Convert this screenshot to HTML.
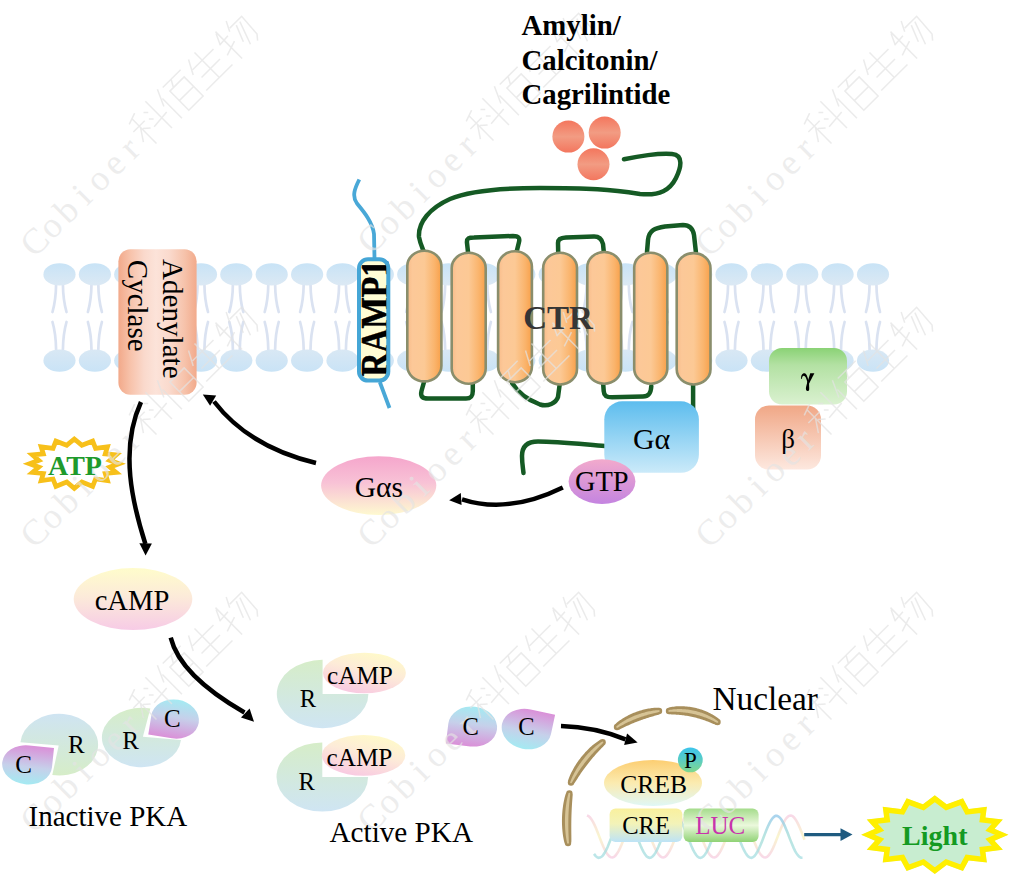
<!DOCTYPE html>
<html><head><meta charset="utf-8"><style>
html,body{margin:0;padding:0;background:#fff;width:1011px;height:875px;overflow:hidden;}
svg{display:block;}
</style></head><body>
<svg width="1011" height="875" viewBox="0 0 1011 875">
<defs>
<linearGradient id="gHead" x1="0" y1="0" x2="0" y2="1"><stop offset="0" stop-color="#C8E3F6"/><stop offset="1" stop-color="#DCE9F4"/></linearGradient>
<linearGradient id="gHeadB" x1="0" y1="0" x2="0" y2="1"><stop offset="0" stop-color="#D9E8F4"/><stop offset="1" stop-color="#C9E3F6"/></linearGradient>
<linearGradient id="gAC" x1="0" y1="0" x2="1" y2="0"><stop offset="0" stop-color="#F2A98A"/><stop offset="0.15" stop-color="#F7C2AA"/><stop offset="0.33" stop-color="#FAD9CC"/><stop offset="0.48" stop-color="#FCE3D9"/><stop offset="0.65" stop-color="#FADACD"/><stop offset="0.85" stop-color="#F6C2AA"/><stop offset="1" stop-color="#F2AA8B"/></linearGradient>
<linearGradient id="gHelix" x1="0" y1="0" x2="1" y2="0"><stop offset="0" stop-color="#F8BC8A"/><stop offset="0.15" stop-color="#FCC898"/><stop offset="0.5" stop-color="#FCC995"/><stop offset="0.8" stop-color="#FAB46C"/><stop offset="1" stop-color="#F8A04A"/></linearGradient>
<linearGradient id="gLig" x1="0" y1="0" x2="0" y2="1"><stop offset="0" stop-color="#F4765D"/><stop offset="0.5" stop-color="#F29C83"/><stop offset="1" stop-color="#F3765E"/></linearGradient>
<linearGradient id="gGa" x1="0" y1="0" x2="0" y2="1"><stop offset="0" stop-color="#5DBDEE"/><stop offset="1" stop-color="#CBEAF9"/></linearGradient>
<linearGradient id="gGTP" x1="0" y1="0" x2="0" y2="1"><stop offset="0" stop-color="#F2AACC"/><stop offset="1" stop-color="#C484E0"/></linearGradient>
<linearGradient id="gGam" x1="0" y1="0" x2="0" y2="1"><stop offset="0" stop-color="#8AD275"/><stop offset="0.3" stop-color="#B3E1A3"/><stop offset="1" stop-color="#DAF1D0"/></linearGradient>
<linearGradient id="gBet" x1="0" y1="0" x2="0" y2="1"><stop offset="0" stop-color="#F0A786"/><stop offset="1" stop-color="#FDE8DF"/></linearGradient>
<linearGradient id="gGas" x1="0" y1="0" x2="0" y2="1"><stop offset="0" stop-color="#F5A6CC"/><stop offset="0.45" stop-color="#F8C2D6"/><stop offset="1" stop-color="#FEF9D0"/></linearGradient>
<linearGradient id="gCamp" x1="0" y1="0" x2="0" y2="1"><stop offset="0" stop-color="#FFFCCB"/><stop offset="0.45" stop-color="#FCEBD9"/><stop offset="1" stop-color="#F7CBE6"/></linearGradient>
<linearGradient id="gCampS" x1="0.75" y1="0" x2="0.3" y2="1"><stop offset="0" stop-color="#FFFBC8"/><stop offset="0.45" stop-color="#FDEBD8"/><stop offset="1" stop-color="#F8C8E2"/></linearGradient>
<linearGradient id="gRgb" x1="0" y1="0" x2="0" y2="1"><stop offset="0" stop-color="#D6EDC8"/><stop offset="1" stop-color="#CFE5F3"/></linearGradient>
<linearGradient id="gRbg" x1="0" y1="0" x2="0" y2="1"><stop offset="0" stop-color="#CFE4F2"/><stop offset="1" stop-color="#D6EDC8"/></linearGradient>
<linearGradient id="gCcm" x1="0" y1="0" x2="0" y2="1"><stop offset="0" stop-color="#A4EAF2"/><stop offset="0.45" stop-color="#C6D0EA"/><stop offset="1" stop-color="#DA90D8"/></linearGradient>
<linearGradient id="gCmc" x1="0" y1="0" x2="0" y2="1"><stop offset="0" stop-color="#DA90D8"/><stop offset="0.55" stop-color="#C6D0EA"/><stop offset="1" stop-color="#A4EAF2"/></linearGradient>
<linearGradient id="gCREB" x1="0" y1="0" x2="0" y2="1"><stop offset="0" stop-color="#FCCE72"/><stop offset="0.5" stop-color="#FBEBB0"/><stop offset="1" stop-color="#DFF7F6"/></linearGradient>
<linearGradient id="gP" x1="0" y1="0" x2="0" y2="1"><stop offset="0" stop-color="#3CC4EC"/><stop offset="0.5" stop-color="#5ACDC4"/><stop offset="1" stop-color="#80D88C"/></linearGradient>
<linearGradient id="gCRE" x1="0" y1="0" x2="0" y2="1"><stop offset="0" stop-color="#F9F09E"/><stop offset="0.45" stop-color="#F3F3B8"/><stop offset="1" stop-color="#BDE3F7"/></linearGradient>
<linearGradient id="gLUC" x1="0" y1="0" x2="0" y2="1"><stop offset="0" stop-color="#A5DC8C"/><stop offset="0.5" stop-color="#EBF8DC"/><stop offset="1" stop-color="#8FD274"/></linearGradient>
<linearGradient id="gDNA1" x1="0" y1="0" x2="0" y2="1"><stop offset="0" stop-color="#F6CCE0"/><stop offset="0.5" stop-color="#F8F2BE"/><stop offset="1" stop-color="#F6CCE0"/></linearGradient><linearGradient id="gDNA2" x1="0" y1="0" x2="0" y2="1"><stop offset="0" stop-color="#8EC6E8"/><stop offset="0.5" stop-color="#A2DCD6"/><stop offset="1" stop-color="#A6DEE2"/></linearGradient>
<marker id="ah" markerWidth="4" markerHeight="4" refX="2.2" refY="2" orient="auto" markerUnits="strokeWidth"><path d="M0,0 L4,2 L0,4 Z" fill="#000"/></marker>
</defs>

<g fill="none" stroke="#DAE2F1" stroke-width="2.7" stroke-linecap="round"><path d="M56.1,284 Q55.9,300 52.5,312 M62.9,284 Q63.1,300 66.5,312 M52.5,322 Q55.9,334 56.1,350 M66.5,322 Q63.1,334 62.9,350" /><path d="M91.5,284 Q91.3,300 87.9,312 M98.3,284 Q98.5,300 101.9,312 M87.9,322 Q91.3,334 91.5,350 M101.9,322 Q98.5,334 98.3,350" /><path d="M126.8,284 Q126.6,300 123.2,312 M133.6,284 Q133.8,300 137.2,312 M123.2,322 Q126.6,334 126.8,350 M137.2,322 Q133.8,334 133.6,350" /><path d="M162.2,284 Q162.0,300 158.6,312 M169.0,284 Q169.2,300 172.6,312 M158.6,322 Q162.0,334 162.2,350 M172.6,322 Q169.2,334 169.0,350" /><path d="M197.6,284 Q197.4,300 194.0,312 M204.4,284 Q204.6,300 208.0,312 M194.0,322 Q197.4,334 197.6,350 M208.0,322 Q204.6,334 204.4,350" /><path d="M232.9,284 Q232.8,300 229.3,312 M239.8,284 Q239.9,300 243.3,312 M229.3,322 Q232.8,334 232.9,350 M243.3,322 Q239.9,334 239.8,350" /><path d="M268.3,284 Q268.1,300 264.7,312 M275.1,284 Q275.3,300 278.7,312 M264.7,322 Q268.1,334 268.3,350 M278.7,322 Q275.3,334 275.1,350" /><path d="M303.7,284 Q303.5,300 300.1,312 M310.5,284 Q310.7,300 314.1,312 M300.1,322 Q303.5,334 303.7,350 M314.1,322 Q310.7,334 310.5,350" /><path d="M339.1,284 Q338.9,300 335.5,312 M345.9,284 Q346.1,300 349.5,312 M335.5,322 Q338.9,334 339.1,350 M349.5,322 Q346.1,334 345.9,350" /><path d="M374.4,284 Q374.2,300 370.8,312 M381.2,284 Q381.4,300 384.8,312 M370.8,322 Q374.2,334 374.4,350 M384.8,322 Q381.4,334 381.2,350" /><path d="M409.8,284 Q409.6,300 406.2,312 M416.6,284 Q416.8,300 420.2,312 M406.2,322 Q409.6,334 409.8,350 M420.2,322 Q416.8,334 416.6,350" /><path d="M445.2,284 Q445.0,300 441.6,312 M452.0,284 Q452.2,300 455.6,312 M441.6,322 Q445.0,334 445.2,350 M455.6,322 Q452.2,334 452.0,350" /><path d="M480.5,284 Q480.3,300 476.9,312 M487.3,284 Q487.5,300 490.9,312 M476.9,322 Q480.3,334 480.5,350 M490.9,322 Q487.5,334 487.3,350" /><path d="M515.9,284 Q515.7,300 512.3,312 M522.7,284 Q522.9,300 526.3,312 M512.3,322 Q515.7,334 515.9,350 M526.3,322 Q522.9,334 522.7,350" /><path d="M551.3,284 Q551.1,300 547.7,312 M558.1,284 Q558.3,300 561.7,312 M547.7,322 Q551.1,334 551.3,350 M561.7,322 Q558.3,334 558.1,350" /><path d="M586.6,284 Q586.4,300 583.0,312 M593.4,284 Q593.6,300 597.0,312 M583.0,322 Q586.4,334 586.6,350 M597.0,322 Q593.6,334 593.4,350" /><path d="M622.0,284 Q621.8,300 618.4,312 M628.8,284 Q629.0,300 632.4,312 M618.4,322 Q621.8,334 622.0,350 M632.4,322 Q629.0,334 628.8,350" /><path d="M657.4,284 Q657.2,300 653.8,312 M664.2,284 Q664.4,300 667.8,312 M653.8,322 Q657.2,334 657.4,350 M667.8,322 Q664.4,334 664.2,350" /><path d="M692.8,284 Q692.6,300 689.2,312 M699.6,284 Q699.8,300 703.2,312 M689.2,322 Q692.6,334 692.8,350 M703.2,322 Q699.8,334 699.6,350" /><path d="M728.1,284 Q727.9,300 724.5,312 M734.9,284 Q735.1,300 738.5,312 M724.5,322 Q727.9,334 728.1,350 M738.5,322 Q735.1,334 734.9,350" /><path d="M763.5,284 Q763.3,300 759.9,312 M770.3,284 Q770.5,300 773.9,312 M759.9,322 Q763.3,334 763.5,350 M773.9,322 Q770.5,334 770.3,350" /><path d="M798.9,284 Q798.7,300 795.3,312 M805.7,284 Q805.9,300 809.3,312 M795.3,322 Q798.7,334 798.9,350 M809.3,322 Q805.9,334 805.7,350" /><path d="M834.2,284 Q834.0,300 830.6,312 M841.0,284 Q841.2,300 844.6,312 M830.6,322 Q834.0,334 834.2,350 M844.6,322 Q841.2,334 841.0,350" /><path d="M869.6,284 Q869.4,300 866.0,312 M876.4,284 Q876.6,300 880.0,312 M866.0,322 Q869.4,334 869.6,350 M880.0,322 Q876.6,334 876.4,350" /></g>
<g fill="url(#gHead)"><ellipse cx="59.5" cy="274.4" rx="16.1" ry="11.2"/><ellipse cx="94.9" cy="274.4" rx="16.1" ry="11.2"/><ellipse cx="130.2" cy="274.4" rx="16.1" ry="11.2"/><ellipse cx="165.6" cy="274.4" rx="16.1" ry="11.2"/><ellipse cx="201.0" cy="274.4" rx="16.1" ry="11.2"/><ellipse cx="236.3" cy="274.4" rx="16.1" ry="11.2"/><ellipse cx="271.7" cy="274.4" rx="16.1" ry="11.2"/><ellipse cx="307.1" cy="274.4" rx="16.1" ry="11.2"/><ellipse cx="342.5" cy="274.4" rx="16.1" ry="11.2"/><ellipse cx="377.8" cy="274.4" rx="16.1" ry="11.2"/><ellipse cx="413.2" cy="274.4" rx="16.1" ry="11.2"/><ellipse cx="448.6" cy="274.4" rx="16.1" ry="11.2"/><ellipse cx="483.9" cy="274.4" rx="16.1" ry="11.2"/><ellipse cx="519.3" cy="274.4" rx="16.1" ry="11.2"/><ellipse cx="554.7" cy="274.4" rx="16.1" ry="11.2"/><ellipse cx="590.0" cy="274.4" rx="16.1" ry="11.2"/><ellipse cx="625.4" cy="274.4" rx="16.1" ry="11.2"/><ellipse cx="660.8" cy="274.4" rx="16.1" ry="11.2"/><ellipse cx="696.2" cy="274.4" rx="16.1" ry="11.2"/><ellipse cx="731.5" cy="274.4" rx="16.1" ry="11.2"/><ellipse cx="766.9" cy="274.4" rx="16.1" ry="11.2"/><ellipse cx="802.3" cy="274.4" rx="16.1" ry="11.2"/><ellipse cx="837.6" cy="274.4" rx="16.1" ry="11.2"/><ellipse cx="873.0" cy="274.4" rx="16.1" ry="11.2"/></g>
<g fill="url(#gHeadB)"><ellipse cx="59.5" cy="360.6" rx="16.1" ry="11.2"/><ellipse cx="94.9" cy="360.6" rx="16.1" ry="11.2"/><ellipse cx="130.2" cy="360.6" rx="16.1" ry="11.2"/><ellipse cx="165.6" cy="360.6" rx="16.1" ry="11.2"/><ellipse cx="201.0" cy="360.6" rx="16.1" ry="11.2"/><ellipse cx="236.3" cy="360.6" rx="16.1" ry="11.2"/><ellipse cx="271.7" cy="360.6" rx="16.1" ry="11.2"/><ellipse cx="307.1" cy="360.6" rx="16.1" ry="11.2"/><ellipse cx="342.5" cy="360.6" rx="16.1" ry="11.2"/><ellipse cx="377.8" cy="360.6" rx="16.1" ry="11.2"/><ellipse cx="413.2" cy="360.6" rx="16.1" ry="11.2"/><ellipse cx="448.6" cy="360.6" rx="16.1" ry="11.2"/><ellipse cx="483.9" cy="360.6" rx="16.1" ry="11.2"/><ellipse cx="519.3" cy="360.6" rx="16.1" ry="11.2"/><ellipse cx="554.7" cy="360.6" rx="16.1" ry="11.2"/><ellipse cx="590.0" cy="360.6" rx="16.1" ry="11.2"/><ellipse cx="625.4" cy="360.6" rx="16.1" ry="11.2"/><ellipse cx="660.8" cy="360.6" rx="16.1" ry="11.2"/><ellipse cx="696.2" cy="360.6" rx="16.1" ry="11.2"/><ellipse cx="731.5" cy="360.6" rx="16.1" ry="11.2"/><ellipse cx="766.9" cy="360.6" rx="16.1" ry="11.2"/><ellipse cx="802.3" cy="360.6" rx="16.1" ry="11.2"/><ellipse cx="837.6" cy="360.6" rx="16.1" ry="11.2"/><ellipse cx="873.0" cy="360.6" rx="16.1" ry="11.2"/></g>
<rect x="118.4" y="249.3" width="78.2" height="145.5" rx="12" fill="url(#gAC)"/>
<path d="M359.3,179.5 C355,188 351.5,196 357,203.5 C364,212 372.5,222 374,234 L374.5,258 M379.8,382 L389.5,408" fill="none" stroke="#49A8D7" stroke-width="3.8"/>
<rect x="359" y="259.2" width="29.3" height="121.4" rx="9" fill="#FFFDD5"/>
<text transform="translate(388,376.6) rotate(-90) scale(0.853,1)" font-family="Liberation Serif" font-weight="bold" font-size="39" fill="#000" stroke="#000" stroke-width="0.6">RAMP1</text>
<rect x="359" y="259.2" width="29.3" height="121.4" rx="9" fill="none" stroke="#45A6D6" stroke-width="4"/>
<g fill="none" stroke="#155A24" stroke-width="4.5" stroke-linecap="round" stroke-linejoin="round"><path d="M624,159.3 C640,156 660,153 672,154 C684,155 681,168 676,178 C670,190 660,196 640,194 C610,189.5 590,188 540,188 C500,188 470,190.5 450,199 C430,208 418,222 419,237 C420,243 422,247 424,252"/><path d="M424,382 L421.5,391 C420,397 423,398.5 428,398.5 L466,398.5 C471,398.5 472.8,396 472.8,391 L472.8,384"/><path d="M468,252 L467,243 C466.5,238 469,237.5 474,237.5 L513,236 C518.5,236 520,238 519,242 L516.8,251"/><path d="M512,383 C518,393 528,400 540,404.5 C548,407 556,403 558,397 L559.6,385"/><path d="M558.2,252 L558,243 C558,239 561,237.8 566,237.6 L594,236.6 C600,236.5 602,240 603,244 L603.7,251"/><path d="M603.2,384 L603.7,391 C604,396 607,397.3 612,397.3 L643,396.6 C649,396.5 651,393 651.3,386"/><path d="M647,252 L648,240 C649,230 655,228 665,226.5 L683,225 C690,225 693,229 694,235 L695.9,252"/><path d="M693.1,385 L693.1,412"/><path d="M605,446 C585,444.5 558,441.5 538,441.5 C527,441.5 522,447 522,456 C522,463 523,468 523.5,473"/></g>
<g fill="url(#gHelix)" stroke="#8A8E6C" stroke-width="2.6"><rect x="407.3" y="250.7" width="34.1" height="130.7" rx="17.0" ry="15.3"/><rect x="451.7" y="252.7" width="34.0" height="131.0" rx="17.0" ry="15.3"/><rect x="498.1" y="251.3" width="33.8" height="130.9" rx="16.9" ry="15.2"/><rect x="543.2" y="252.7" width="33.8" height="131.8" rx="16.9" ry="15.2"/><rect x="587.3" y="252.0" width="33.8" height="131.7" rx="16.9" ry="15.2"/><rect x="634.2" y="252.7" width="33.1" height="131.0" rx="16.6" ry="14.9"/><rect x="676.7" y="253.1" width="33.8" height="131.4" rx="16.9" ry="15.2"/></g>
<g fill="url(#gLig)"><circle cx="568.4" cy="136.6" r="16"/><circle cx="604.7" cy="132.6" r="16"/><circle cx="593.5" cy="164.3" r="16"/></g>
<rect x="604.3" y="401.3" width="94.6" height="71.5" rx="18" fill="url(#gGa)"/>
<ellipse cx="602" cy="481.6" rx="33.4" ry="22.3" fill="url(#gGTP)"/>
<rect x="769" y="348" width="78" height="56.5" rx="13" fill="url(#gGam)"/>
<rect x="755" y="405.4" width="66" height="64.2" rx="14" fill="url(#gBet)"/>
<ellipse cx="378.7" cy="485.6" rx="57.6" ry="29.3" fill="url(#gGas)"/>
<ellipse cx="133" cy="599.1" rx="59.3" ry="31" fill="url(#gCamp)"/>
<clipPath id="cpATP"><polygon points="74.3,435.9 82.3,442.6 94.0,438.0 97.1,445.8 110.8,444.0 108.4,451.8 122.0,453.1 114.5,459.5 125.9,463.7 114.5,467.9 122.0,474.3 108.4,475.6 110.8,483.4 97.1,481.6 94.0,489.4 82.3,484.8 74.3,491.5 66.3,484.8 54.6,489.4 51.5,481.6 37.8,483.4 40.2,475.6 26.6,474.3 34.1,467.9 22.7,463.7 34.1,459.5 26.6,453.1 40.2,451.8 37.8,444.0 51.5,445.8 54.6,438.0 66.3,442.6"/></clipPath><polygon points="74.3,435.9 82.3,442.6 94.0,438.0 97.1,445.8 110.8,444.0 108.4,451.8 122.0,453.1 114.5,459.5 125.9,463.7 114.5,467.9 122.0,474.3 108.4,475.6 110.8,483.4 97.1,481.6 94.0,489.4 82.3,484.8 74.3,491.5 66.3,484.8 54.6,489.4 51.5,481.6 37.8,483.4 40.2,475.6 26.6,474.3 34.1,467.9 22.7,463.7 34.1,459.5 26.6,453.1 40.2,451.8 37.8,444.0 51.5,445.8 54.6,438.0 66.3,442.6" fill="#FFFFFF" stroke="#F7C01A" stroke-width="9.5" stroke-linejoin="miter" stroke-miterlimit="20" clip-path="url(#cpATP)"/>
<path d="M58.70,745.50 L20.41,742.37 A38.9,30.9 0 1 1 52.29,775.11 Z" fill="url(#gRbg)"/>
<path transform="translate(54,748.1) rotate(6)" d="M0,0 L0,19.5 A25.0,19.5 0 0 1 -25.0,39 A25.0,19.5 0 0 1 -50,19.5 A25.0,19.5 0 0 1 -25.0,0 Z" fill="url(#gCmc)"/>
<path d="M142.90,736.80 L150.35,708.55 A39.6,29.7 0 1 0 180.97,739.92 Z" fill="url(#gRgb)"/>
<path transform="translate(148.3,734.6) rotate(9)" d="M0,0 L0,-19.5 A24.0,19.5 0 0 1 24.0,-39 A24.0,19.5 0 0 1 48,-19.5 A24.0,19.5 0 0 1 24.0,0 Z" fill="url(#gCcm)"/>
<path d="M322.6,694 L322.6,659.8 A45.8,34.2 0 1 0 368.40000000000003,694 Z" fill="url(#gRgb)"/>
<ellipse cx="364.4" cy="673" rx="41.5" ry="20.2" fill="url(#gCampS)"/>
<path d="M322.3,777 L322.3,742.4 A45.8,34.6 0 1 0 368.1,777 Z" fill="url(#gRgb)"/>
<ellipse cx="363.5" cy="755.4" rx="41.8" ry="20.4" fill="url(#gCampS)"/>
<path transform="translate(445.9,743.4) rotate(7)" d="M0,0 L0,-20.0 A24.5,20.0 0 0 1 24.5,-40 A24.5,20.0 0 0 1 49,-20.0 A24.5,20.0 0 0 1 24.5,0 Z" fill="url(#gCcm)"/>
<path transform="translate(555.1,714.7) rotate(12)" d="M0,0 L0,20.0 A25.0,20.0 0 0 1 -25.0,40 A25.0,20.0 0 0 1 -50,20.0 A25.0,20.0 0 0 1 -25.0,0 Z" fill="url(#gCmc)"/>
<g fill="#A88F5C"><path d="M669.37,714.18 L670.57,714.37 L671.73,714.42 L672.89,714.47 L674.05,714.52 L675.21,714.57 L676.37,714.64 L677.54,714.71 L678.70,714.80 L679.87,714.90 L681.04,715.02 L682.21,715.15 L683.38,715.30 L684.56,715.45 L685.73,715.63 L686.91,715.81 L688.08,716.01 L689.26,716.23 L690.43,716.46 L691.61,716.70 L692.78,716.96 L693.95,717.23 L695.12,717.52 L696.29,717.82 L697.46,718.13 L698.62,718.46 L699.78,718.80 L700.94,719.15 L702.10,719.52 L703.25,719.90 L704.40,720.30 L705.54,720.71 L706.68,721.13 L707.82,721.56 L708.95,722.01 L710.08,722.47 L711.21,722.94 L712.34,723.41 L713.46,723.89 L714.60,724.36 L715.84,724.73 L719.16,719.27 L718.21,718.31 L717.13,717.48 L716.02,716.71 L714.89,715.96 L713.73,715.25 L712.56,714.57 L711.37,713.92 L710.16,713.29 L708.95,712.68 L707.71,712.11 L706.47,711.56 L705.21,711.03 L703.94,710.53 L702.67,710.06 L701.38,709.62 L700.09,709.20 L698.79,708.81 L697.48,708.44 L696.17,708.10 L694.85,707.79 L693.52,707.51 L692.20,707.25 L690.87,707.02 L689.53,706.82 L688.20,706.64 L686.87,706.50 L685.53,706.38 L684.20,706.29 L682.87,706.23 L681.54,706.20 L680.21,706.20 L678.89,706.22 L677.57,706.28 L676.26,706.37 L674.96,706.49 L673.66,706.64 L672.37,706.83 L671.10,707.07 L669.83,707.36 L668.63,707.82Z"/><circle cx="669.00" cy="711.00" r="3.20"/><circle cx="717.50" cy="722.00" r="3.20"/><path d="M618.80,729.64 L619.95,729.26 L620.98,728.77 L622.00,728.28 L623.02,727.78 L624.03,727.28 L625.04,726.80 L626.05,726.31 L627.07,725.84 L628.08,725.38 L629.09,724.92 L630.10,724.47 L631.12,724.03 L632.13,723.60 L633.15,723.17 L634.16,722.75 L635.18,722.35 L636.20,721.94 L637.21,721.55 L638.23,721.16 L639.25,720.79 L640.27,720.41 L641.29,720.05 L642.31,719.69 L643.32,719.34 L644.34,719.00 L645.36,718.66 L646.38,718.33 L647.40,718.00 L648.41,717.68 L649.43,717.37 L650.44,717.06 L651.45,716.75 L652.46,716.45 L653.47,716.16 L654.48,715.86 L655.49,715.57 L656.49,715.27 L657.49,714.97 L658.48,714.64 L659.47,714.17 L658.53,707.83 L657.41,707.67 L656.30,707.68 L655.18,707.73 L654.06,707.81 L652.94,707.92 L651.81,708.06 L650.68,708.21 L649.55,708.38 L648.42,708.58 L647.29,708.79 L646.16,709.02 L645.03,709.27 L643.89,709.54 L642.76,709.83 L641.63,710.14 L640.50,710.47 L639.37,710.81 L638.24,711.18 L637.12,711.56 L636.00,711.96 L634.88,712.39 L633.77,712.83 L632.66,713.29 L631.56,713.77 L630.46,714.27 L629.37,714.78 L628.28,715.32 L627.20,715.88 L626.13,716.45 L625.07,717.05 L624.01,717.67 L622.97,718.30 L621.93,718.96 L620.91,719.64 L619.89,720.34 L618.89,721.06 L617.91,721.81 L616.95,722.59 L616.01,723.41 L615.20,724.36Z"/><circle cx="617.00" cy="727.00" r="3.20"/><circle cx="659.00" cy="711.00" r="3.20"/><path d="M573.91,783.84 L574.73,782.83 L575.41,781.79 L576.08,780.74 L576.75,779.68 L577.42,778.63 L578.09,777.57 L578.78,776.52 L579.47,775.46 L580.17,774.41 L580.88,773.36 L581.60,772.32 L582.32,771.28 L583.05,770.24 L583.80,769.21 L584.54,768.18 L585.30,767.16 L586.06,766.15 L586.83,765.14 L587.61,764.13 L588.39,763.14 L589.18,762.15 L589.97,761.17 L590.77,760.19 L591.57,759.23 L592.37,758.27 L593.18,757.32 L594.00,756.38 L594.82,755.45 L595.64,754.53 L596.46,753.61 L597.28,752.71 L598.11,751.82 L598.94,750.94 L599.76,750.07 L600.59,749.21 L601.41,748.35 L602.24,747.50 L603.05,746.66 L603.85,745.80 L604.57,744.82 L600.63,739.78 L599.47,740.27 L598.38,740.93 L597.32,741.64 L596.27,742.38 L595.23,743.15 L594.21,743.95 L593.19,744.77 L592.19,745.61 L591.19,746.48 L590.20,747.37 L589.23,748.28 L588.27,749.22 L587.31,750.17 L586.37,751.14 L585.45,752.12 L584.53,753.13 L583.63,754.15 L582.74,755.19 L581.87,756.24 L581.01,757.31 L580.17,758.40 L579.34,759.49 L578.53,760.61 L577.74,761.73 L576.96,762.87 L576.20,764.02 L575.46,765.18 L574.74,766.35 L574.04,767.53 L573.36,768.72 L572.70,769.92 L572.06,771.13 L571.44,772.35 L570.85,773.58 L570.29,774.81 L569.75,776.06 L569.24,777.31 L568.76,778.57 L568.34,779.84 L568.09,781.16Z"/><circle cx="571.00" cy="782.50" r="3.20"/><circle cx="602.60" cy="742.30" r="3.20"/><path d="M566.26,792.87 L565.69,794.07 L565.28,795.32 L564.92,796.58 L564.59,797.86 L564.29,799.14 L564.00,800.43 L563.74,801.72 L563.50,803.02 L563.28,804.32 L563.07,805.62 L562.89,806.93 L562.72,808.24 L562.57,809.55 L562.43,810.86 L562.31,812.17 L562.21,813.48 L562.13,814.79 L562.06,816.10 L562.01,817.41 L561.98,818.71 L561.96,820.02 L561.95,821.31 L561.97,822.61 L561.99,823.90 L562.04,825.18 L562.10,826.46 L562.17,827.73 L562.26,829.00 L562.37,830.26 L562.49,831.51 L562.62,832.75 L562.77,833.98 L562.94,835.21 L563.12,836.42 L563.32,837.62 L563.54,838.81 L563.78,839.99 L564.05,841.16 L564.36,842.31 L564.83,843.41 L571.17,842.59 L571.35,841.43 L571.38,840.30 L571.39,839.16 L571.38,838.01 L571.37,836.86 L571.36,835.71 L571.34,834.54 L571.33,833.37 L571.32,832.19 L571.31,831.01 L571.30,829.82 L571.29,828.63 L571.29,827.43 L571.29,826.22 L571.30,825.01 L571.30,823.80 L571.32,822.58 L571.33,821.36 L571.35,820.14 L571.37,818.91 L571.40,817.68 L571.43,816.45 L571.47,815.22 L571.51,813.98 L571.56,812.74 L571.61,811.51 L571.66,810.27 L571.72,809.03 L571.79,807.79 L571.86,806.55 L571.93,805.31 L572.01,804.07 L572.10,802.83 L572.19,801.60 L572.28,800.36 L572.37,799.13 L572.46,797.89 L572.55,796.65 L572.61,795.42 L572.54,794.13Z"/><circle cx="569.40" cy="793.50" r="3.20"/><circle cx="568.00" cy="843.00" r="3.20"/></g>
<g fill="#D6C395"><path d="M669.09,711.79 L670.31,711.85 L671.51,711.84 L672.71,711.82 L673.92,711.82 L675.12,711.83 L676.33,711.86 L677.55,711.91 L678.76,711.97 L679.98,712.04 L681.20,712.14 L682.42,712.25 L683.65,712.38 L684.87,712.53 L686.10,712.69 L687.32,712.87 L688.55,713.07 L689.77,713.28 L691.00,713.52 L692.22,713.77 L693.44,714.03 L694.66,714.32 L695.87,714.62 L697.09,714.93 L698.30,715.27 L699.51,715.62 L700.71,715.99 L701.91,716.37 L703.10,716.77 L704.30,717.19 L705.48,717.62 L706.66,718.07 L707.83,718.54 L709.00,719.02 L710.16,719.51 L711.32,720.03 L712.47,720.55 L713.61,721.09 L714.75,721.64 L715.90,722.19 L717.08,722.68 L717.92,721.32 L716.92,720.48 L715.84,719.74 L714.75,719.03 L713.63,718.35 L712.50,717.70 L711.35,717.07 L710.19,716.46 L709.01,715.88 L707.83,715.32 L706.63,714.78 L705.42,714.27 L704.20,713.78 L702.97,713.32 L701.74,712.87 L700.50,712.45 L699.25,712.06 L697.99,711.69 L696.73,711.34 L695.46,711.02 L694.19,710.72 L692.91,710.44 L691.63,710.19 L690.35,709.96 L689.07,709.76 L687.79,709.59 L686.50,709.43 L685.22,709.31 L683.93,709.21 L682.65,709.13 L681.38,709.08 L680.10,709.06 L678.83,709.06 L677.56,709.09 L676.30,709.14 L675.04,709.22 L673.79,709.34 L672.55,709.48 L671.32,709.65 L670.10,709.87 L668.91,710.21Z"/><circle cx="669.00" cy="711.00" r="0.80"/><circle cx="717.50" cy="722.00" r="0.80"/><path d="M617.45,727.66 L618.53,727.16 L619.56,726.60 L620.59,726.04 L621.61,725.48 L622.63,724.93 L623.66,724.39 L624.68,723.87 L625.71,723.35 L626.74,722.84 L627.78,722.35 L628.81,721.86 L629.85,721.39 L630.89,720.93 L631.93,720.47 L632.97,720.03 L634.02,719.60 L635.07,719.18 L636.11,718.76 L637.16,718.36 L638.21,717.97 L639.26,717.59 L640.32,717.22 L641.37,716.85 L642.42,716.50 L643.47,716.15 L644.52,715.82 L645.58,715.49 L646.63,715.17 L647.68,714.86 L648.73,714.56 L649.78,714.27 L650.83,713.99 L651.87,713.71 L652.92,713.44 L653.96,713.17 L655.00,712.92 L656.04,712.66 L657.07,712.40 L658.10,712.14 L659.12,711.79 L658.88,710.21 L657.80,710.17 L656.72,710.24 L655.63,710.34 L654.55,710.47 L653.46,710.61 L652.37,710.77 L651.28,710.95 L650.18,711.15 L649.09,711.36 L647.99,711.59 L646.89,711.84 L645.79,712.10 L644.70,712.38 L643.60,712.67 L642.50,712.98 L641.40,713.31 L640.31,713.65 L639.22,714.01 L638.13,714.39 L637.04,714.78 L635.95,715.19 L634.87,715.61 L633.79,716.06 L632.72,716.51 L631.65,716.99 L630.58,717.48 L629.52,717.99 L628.47,718.52 L627.42,719.06 L626.38,719.62 L625.35,720.20 L624.32,720.79 L623.30,721.41 L622.29,722.04 L621.29,722.69 L620.31,723.36 L619.33,724.05 L618.37,724.76 L617.42,725.51 L616.55,726.34Z"/><circle cx="617.00" cy="727.00" r="0.80"/><circle cx="659.00" cy="711.00" r="0.80"/><path d="M571.73,782.83 L572.44,781.76 L573.07,780.66 L573.71,779.55 L574.35,778.44 L575.00,777.34 L575.66,776.23 L576.34,775.13 L577.02,774.03 L577.72,772.94 L578.42,771.85 L579.14,770.76 L579.87,769.68 L580.60,768.61 L581.35,767.54 L582.11,766.48 L582.88,765.42 L583.65,764.38 L584.44,763.34 L585.23,762.30 L586.03,761.28 L586.84,760.26 L587.66,759.26 L588.48,758.26 L589.31,757.27 L590.15,756.30 L590.99,755.33 L591.84,754.37 L592.69,753.43 L593.55,752.50 L594.41,751.58 L595.28,750.67 L596.15,749.77 L597.02,748.89 L597.90,748.01 L598.78,747.15 L599.65,746.31 L600.53,745.47 L601.41,744.64 L602.27,743.82 L603.09,742.93 L602.11,741.67 L601.04,742.26 L600.02,742.95 L599.02,743.67 L598.03,744.42 L597.05,745.20 L596.07,746.00 L595.10,746.82 L594.14,747.67 L593.19,748.53 L592.25,749.41 L591.31,750.31 L590.39,751.23 L589.47,752.17 L588.57,753.12 L587.67,754.09 L586.79,755.08 L585.91,756.08 L585.05,757.10 L584.20,758.13 L583.37,759.17 L582.54,760.23 L581.73,761.30 L580.94,762.38 L580.16,763.47 L579.39,764.57 L578.65,765.69 L577.91,766.81 L577.20,767.95 L576.50,769.09 L575.82,770.24 L575.15,771.40 L574.51,772.56 L573.88,773.74 L573.28,774.92 L572.70,776.10 L572.14,777.30 L571.61,778.50 L571.10,779.70 L570.63,780.92 L570.27,782.17Z"/><circle cx="571.00" cy="782.50" r="0.80"/><circle cx="602.60" cy="742.30" r="0.80"/><path d="M568.62,793.34 L568.17,794.55 L567.84,795.79 L567.53,797.03 L567.25,798.29 L566.99,799.55 L566.75,800.82 L566.52,802.09 L566.31,803.37 L566.12,804.64 L565.94,805.93 L565.78,807.21 L565.63,808.49 L565.50,809.78 L565.38,811.07 L565.28,812.36 L565.19,813.64 L565.12,814.93 L565.06,816.21 L565.01,817.50 L564.98,818.78 L564.96,820.05 L564.95,821.33 L564.96,822.60 L564.98,823.87 L565.01,825.13 L565.06,826.38 L565.11,827.63 L565.19,828.88 L565.27,830.11 L565.37,831.34 L565.48,832.57 L565.60,833.78 L565.74,834.98 L565.88,836.18 L566.05,837.37 L566.22,838.54 L566.42,839.70 L566.63,840.86 L566.87,841.99 L567.21,843.10 L568.79,842.90 L568.84,841.75 L568.80,840.60 L568.75,839.45 L568.70,838.29 L568.65,837.12 L568.60,835.95 L568.55,834.76 L568.50,833.57 L568.46,832.38 L568.43,831.17 L568.39,829.96 L568.37,828.75 L568.35,827.52 L568.33,826.30 L568.33,825.07 L568.32,823.83 L568.33,822.59 L568.34,821.35 L568.35,820.10 L568.37,818.85 L568.40,817.59 L568.44,816.34 L568.48,815.08 L568.53,813.82 L568.59,812.56 L568.66,811.30 L568.73,810.04 L568.81,808.77 L568.89,807.51 L568.99,806.25 L569.09,804.98 L569.20,803.72 L569.32,802.46 L569.44,801.20 L569.57,799.95 L569.71,798.69 L569.85,797.44 L569.99,796.18 L570.13,794.93 L570.18,793.66Z"/><circle cx="569.40" cy="793.50" r="0.80"/><circle cx="568.00" cy="843.00" r="0.80"/></g>
<path d="M587.0,815.5 L588.5,816.1 L590.0,817.4 L591.5,819.4 L593.0,821.9 L594.5,824.9 L596.0,828.3 L597.5,832.0 L599.0,835.9 L600.5,839.7 L602.0,843.5 L603.5,847.0 L605.0,850.2 L606.5,852.9 L608.0,855.0 L609.5,856.5 L611.0,857.3 L612.5,857.5 L614.0,856.9 L615.5,855.6 L617.0,853.6 L618.5,851.1 L620.0,848.1 L621.5,844.7 L623.0,841.0 L624.5,837.1 L626.0,833.3 L627.5,829.5 L629.0,826.0 L630.5,822.8 L632.0,820.1 L633.5,818.0 L635.0,816.5 L636.5,815.7 L638.0,815.5 L639.5,816.1 L641.0,817.4 L642.5,819.4 L644.0,821.9 L645.5,824.9 L647.0,828.3 L648.5,832.0 L650.0,835.9 L651.5,839.7 L653.0,843.5 L654.5,847.0 L656.0,850.2 L657.5,852.9 L659.0,855.0 L660.5,856.5 L662.0,857.3 L663.5,857.5 L665.0,856.9 L666.5,855.6 L668.0,853.6 L669.5,851.1 L671.0,848.1 L672.5,844.7 L674.0,841.0 L675.5,837.1 L677.0,833.3 L678.5,829.5 L680.0,826.0 L681.5,822.8 L683.0,820.1 L684.5,818.0 L686.0,816.5 L687.5,815.7 L689.0,815.5 L690.5,816.1 L692.0,817.4 L693.5,819.4 L695.0,821.9 L696.5,824.9 L698.0,828.3 L699.5,832.0 L701.0,835.9 L702.5,839.7 L704.0,843.5 L705.5,847.0 L707.0,850.2 L708.5,852.9 L710.0,855.0 L711.5,856.5 L713.0,857.3 L714.5,857.5 L716.0,856.9 L717.5,855.6 L719.0,853.6 L720.5,851.1 L722.0,848.1 L723.5,844.7 L725.0,841.0 L726.5,837.1 L728.0,833.3 L729.5,829.5 L731.0,826.0 L732.5,822.8 L734.0,820.1 L735.5,818.0 L737.0,816.5 L738.5,815.7 L740.0,815.5 L741.5,816.1 L743.0,817.4 L744.5,819.4 L746.0,821.9 L747.5,824.9 L749.0,828.3 L750.5,832.0 L752.0,835.9 L753.5,839.7 L755.0,843.5 L756.5,847.0 L758.0,850.2 L759.5,852.9 L761.0,855.0 L762.5,856.5 L764.0,857.3 L765.5,857.5 L767.0,856.9 L768.5,855.6 L770.0,853.6 L771.5,851.1 L773.0,848.1 L774.5,844.7 L776.0,841.0 L777.5,837.1 L779.0,833.3 L780.5,829.5 L782.0,826.0 L783.5,822.8 L785.0,820.1 L786.5,818.0 L788.0,816.5 L789.5,815.7 L791.0,815.5 L792.5,816.1 L794.0,817.4 L795.5,819.4 L797.0,821.9 L798.5,824.9 L800.0,828.3 L801.5,832.0 L803.0,835.9 L804.5,839.7" fill="none" stroke="url(#gDNA1)" stroke-width="2.6" opacity="0.75"/>
<path d="M594.0,853.9 L595.5,855.9 L597.0,857.2 L598.5,857.8 L600.0,857.6 L601.5,856.8 L603.0,855.3 L604.5,853.1 L606.0,850.4 L607.5,847.2 L609.0,843.6 L610.5,839.8 L612.0,836.0 L613.5,832.1 L615.0,828.4 L616.5,825.0 L618.0,822.0 L619.5,819.5 L621.0,817.6 L622.5,816.3 L624.0,815.8 L625.5,816.0 L627.0,816.9 L628.5,818.5 L630.0,820.7 L631.5,823.5 L633.0,826.8 L634.5,830.3 L636.0,834.1 L637.5,838.0 L639.0,841.9 L640.5,845.6 L642.0,848.9 L643.5,851.9 L645.0,854.3 L646.5,856.2 L648.0,857.3 L649.5,857.8 L651.0,857.5 L652.5,856.5 L654.0,854.9 L655.5,852.6 L657.0,849.8 L658.5,846.5 L660.0,842.9 L661.5,839.1 L663.0,835.2 L664.5,831.3 L666.0,827.7 L667.5,824.3 L669.0,821.4 L670.5,819.1 L672.0,817.3 L673.5,816.2 L675.0,815.8 L676.5,816.1 L678.0,817.2 L679.5,818.9 L681.0,821.3 L682.5,824.1 L684.0,827.4 L685.5,831.1 L687.0,834.9 L688.5,838.8 L690.0,842.6 L691.5,846.3 L693.0,849.6 L694.5,852.4 L696.0,854.8 L697.5,856.5 L699.0,857.5 L700.5,857.8 L702.0,857.4 L703.5,856.3 L705.0,854.5 L706.5,852.1 L708.0,849.2 L709.5,845.8 L711.0,842.1 L712.5,838.3 L714.0,834.4 L715.5,830.6 L717.0,827.0 L718.5,823.7 L720.0,820.9 L721.5,818.6 L723.0,817.0 L724.5,816.1 L726.0,815.8 L727.5,816.3 L729.0,817.5 L730.5,819.3 L732.0,821.8 L733.5,824.8 L735.0,828.2 L736.5,831.8 L738.0,835.7 L739.5,839.6 L741.0,843.4 L742.5,847.0 L744.0,850.2 L745.5,852.9 L747.0,855.1 L748.5,856.7 L750.0,857.6 L751.5,857.8 L753.0,857.2 L754.5,856.0 L756.0,854.0 L757.5,851.5 L759.0,848.5 L760.5,845.1 L762.0,841.4 L763.5,837.5 L765.0,833.6 L766.5,829.8 L768.0,826.3 L769.5,823.1 L771.0,820.4 L772.5,818.3 L774.0,816.8 L775.5,815.9 L777.0,815.8 L778.5,816.5 L780.0,817.8 L781.5,819.8 L783.0,822.3 L784.5,825.4 L786.0,828.9 L787.5,832.6 L789.0,836.5 L790.5,840.4 L792.0,844.1 L793.5,847.6 L795.0,850.8 L796.5,853.4 L798.0,855.5 L799.5,857.0 L801.0,857.7 L802.5,857.7" fill="none" stroke="url(#gDNA2)" stroke-width="2.6" opacity="0.75"/>
<ellipse cx="653" cy="783" rx="49" ry="23" fill="url(#gCREB)"/>
<circle cx="690.3" cy="759.9" r="12.4" fill="url(#gP)"/>
<rect x="609.6" y="808.6" width="72.8" height="33.5" rx="6" fill="url(#gCRE)"/>
<rect x="683.5" y="808.6" width="75.1" height="33.5" rx="6" fill="url(#gLUC)"/>
<path d="M804.2,834.6 L843,834.6" stroke="#1F5B80" stroke-width="3.2"/>
<path d="M840.5,828.3 L852.5,834.6 L840.5,841 Z" fill="#1F5B80"/>
<clipPath id="cpL"><polygon points="934.8,795.3 946.7,804.3 963.0,798.3 968.7,808.9 986.9,806.8 985.5,817.5 1002.9,819.6 994.6,828.7 1008.5,834.7 994.6,840.7 1002.9,849.8 985.5,851.9 986.9,862.6 968.7,860.5 963.0,871.1 946.7,865.1 934.8,874.1 922.9,865.1 906.6,871.1 900.9,860.5 882.7,862.6 884.1,851.9 866.7,849.8 875.0,840.7 861.1,834.7 875.0,828.7 866.7,819.6 884.1,817.5 882.7,806.8 900.9,808.9 906.6,798.3 922.9,804.3"/></clipPath><polygon points="934.8,795.3 946.7,804.3 963.0,798.3 968.7,808.9 986.9,806.8 985.5,817.5 1002.9,819.6 994.6,828.7 1008.5,834.7 994.6,840.7 1002.9,849.8 985.5,851.9 986.9,862.6 968.7,860.5 963.0,871.1 946.7,865.1 934.8,874.1 922.9,865.1 906.6,871.1 900.9,860.5 882.7,862.6 884.1,851.9 866.7,849.8 875.0,840.7 861.1,834.7 875.0,828.7 866.7,819.6 884.1,817.5 882.7,806.8 900.9,808.9 906.6,798.3 922.9,804.3" fill="#C8EDD0" stroke="#FFEF00" stroke-width="11" stroke-linejoin="miter" stroke-miterlimit="20" clip-path="url(#cpL)"/>
<g opacity="1"><g transform="translate(35,258) rotate(-44.8)"><text x="-0.8 24.4 46.7 73 91.3 114.6 138.9" y="0" font-family="Liberation Serif" font-size="36" fill="#E4E4E4" fill-opacity="0.68" stroke="none">Cobioer</text><path transform="translate(156,-36) scale(0.42)" d="M40,8 L12,18 M6,38 L44,38 M26,14 L26,96 M26,42 L6,72 M28,48 L42,60 M56,22 L64,30 M54,42 L62,50 M50,64 L96,60 M78,6 L78,96" fill="none" stroke="#E3E3E3" stroke-opacity="0.7" stroke-width="3.6"/><path transform="translate(196.5,-36) scale(0.42)" d="M22,6 L4,46 M15,30 L15,96 M34,12 L94,12 M62,12 L52,30 M40,30 L88,30 L88,94 L40,94 Z M40,62 L88,62" fill="none" stroke="#E3E3E3" stroke-opacity="0.7" stroke-width="3.6"/><path transform="translate(237.0,-36) scale(0.42)" d="M28,8 L10,42 M18,32 L88,32 M50,6 L50,90 M20,60 L82,60 M6,90 L94,90" fill="none" stroke="#E3E3E3" stroke-opacity="0.7" stroke-width="3.6"/><path transform="translate(277.5,-36) scale(0.42)" d="M22,10 L10,36 M8,36 L38,34 M24,6 L24,96 M4,66 L40,54 M60,6 L48,30 M54,24 L94,24 L90,80 L80,92 M70,30 L54,70 M82,30 L62,86" fill="none" stroke="#E3E3E3" stroke-opacity="0.7" stroke-width="3.6"/></g><g transform="translate(372,255) rotate(-44.8)"><text x="-0.8 24.4 46.7 73 91.3 114.6 138.9" y="0" font-family="Liberation Serif" font-size="36" fill="#E4E4E4" fill-opacity="0.68" stroke="none">Cobioer</text><path transform="translate(156,-36) scale(0.42)" d="M40,8 L12,18 M6,38 L44,38 M26,14 L26,96 M26,42 L6,72 M28,48 L42,60 M56,22 L64,30 M54,42 L62,50 M50,64 L96,60 M78,6 L78,96" fill="none" stroke="#E3E3E3" stroke-opacity="0.7" stroke-width="3.6"/><path transform="translate(196.5,-36) scale(0.42)" d="M22,6 L4,46 M15,30 L15,96 M34,12 L94,12 M62,12 L52,30 M40,30 L88,30 L88,94 L40,94 Z M40,62 L88,62" fill="none" stroke="#E3E3E3" stroke-opacity="0.7" stroke-width="3.6"/><path transform="translate(237.0,-36) scale(0.42)" d="M28,8 L10,42 M18,32 L88,32 M50,6 L50,90 M20,60 L82,60 M6,90 L94,90" fill="none" stroke="#E3E3E3" stroke-opacity="0.7" stroke-width="3.6"/><path transform="translate(277.5,-36) scale(0.42)" d="M22,10 L10,36 M8,36 L38,34 M24,6 L24,96 M4,66 L40,54 M60,6 L48,30 M54,24 L94,24 L90,80 L80,92 M70,30 L54,70 M82,30 L62,86" fill="none" stroke="#E3E3E3" stroke-opacity="0.7" stroke-width="3.6"/></g><g transform="translate(710,258) rotate(-44.8)"><text x="-0.8 24.4 46.7 73 91.3 114.6 138.9" y="0" font-family="Liberation Serif" font-size="36" fill="#E4E4E4" fill-opacity="0.68" stroke="none">Cobioer</text><path transform="translate(156,-36) scale(0.42)" d="M40,8 L12,18 M6,38 L44,38 M26,14 L26,96 M26,42 L6,72 M28,48 L42,60 M56,22 L64,30 M54,42 L62,50 M50,64 L96,60 M78,6 L78,96" fill="none" stroke="#E3E3E3" stroke-opacity="0.7" stroke-width="3.6"/><path transform="translate(196.5,-36) scale(0.42)" d="M22,6 L4,46 M15,30 L15,96 M34,12 L94,12 M62,12 L52,30 M40,30 L88,30 L88,94 L40,94 Z M40,62 L88,62" fill="none" stroke="#E3E3E3" stroke-opacity="0.7" stroke-width="3.6"/><path transform="translate(237.0,-36) scale(0.42)" d="M28,8 L10,42 M18,32 L88,32 M50,6 L50,90 M20,60 L82,60 M6,90 L94,90" fill="none" stroke="#E3E3E3" stroke-opacity="0.7" stroke-width="3.6"/><path transform="translate(277.5,-36) scale(0.42)" d="M22,10 L10,36 M8,36 L38,34 M24,6 L24,96 M4,66 L40,54 M60,6 L48,30 M54,24 L94,24 L90,80 L80,92 M70,30 L54,70 M82,30 L62,86" fill="none" stroke="#E3E3E3" stroke-opacity="0.7" stroke-width="3.6"/></g><g transform="translate(35,549) rotate(-44.8)"><text x="-0.8 24.4 46.7 73 91.3 114.6 138.9" y="0" font-family="Liberation Serif" font-size="36" fill="#E4E4E4" fill-opacity="0.68" stroke="none">Cobioer</text><path transform="translate(156,-36) scale(0.42)" d="M40,8 L12,18 M6,38 L44,38 M26,14 L26,96 M26,42 L6,72 M28,48 L42,60 M56,22 L64,30 M54,42 L62,50 M50,64 L96,60 M78,6 L78,96" fill="none" stroke="#E3E3E3" stroke-opacity="0.7" stroke-width="3.6"/><path transform="translate(196.5,-36) scale(0.42)" d="M22,6 L4,46 M15,30 L15,96 M34,12 L94,12 M62,12 L52,30 M40,30 L88,30 L88,94 L40,94 Z M40,62 L88,62" fill="none" stroke="#E3E3E3" stroke-opacity="0.7" stroke-width="3.6"/><path transform="translate(237.0,-36) scale(0.42)" d="M28,8 L10,42 M18,32 L88,32 M50,6 L50,90 M20,60 L82,60 M6,90 L94,90" fill="none" stroke="#E3E3E3" stroke-opacity="0.7" stroke-width="3.6"/><path transform="translate(277.5,-36) scale(0.42)" d="M22,10 L10,36 M8,36 L38,34 M24,6 L24,96 M4,66 L40,54 M60,6 L48,30 M54,24 L94,24 L90,80 L80,92 M70,30 L54,70 M82,30 L62,86" fill="none" stroke="#E3E3E3" stroke-opacity="0.7" stroke-width="3.6"/></g><g transform="translate(372,549) rotate(-44.8)"><text x="-0.8 24.4 46.7 73 91.3 114.6 138.9" y="0" font-family="Liberation Serif" font-size="36" fill="#E4E4E4" fill-opacity="0.68" stroke="none">Cobioer</text><path transform="translate(156,-36) scale(0.42)" d="M40,8 L12,18 M6,38 L44,38 M26,14 L26,96 M26,42 L6,72 M28,48 L42,60 M56,22 L64,30 M54,42 L62,50 M50,64 L96,60 M78,6 L78,96" fill="none" stroke="#E3E3E3" stroke-opacity="0.7" stroke-width="3.6"/><path transform="translate(196.5,-36) scale(0.42)" d="M22,6 L4,46 M15,30 L15,96 M34,12 L94,12 M62,12 L52,30 M40,30 L88,30 L88,94 L40,94 Z M40,62 L88,62" fill="none" stroke="#E3E3E3" stroke-opacity="0.7" stroke-width="3.6"/><path transform="translate(237.0,-36) scale(0.42)" d="M28,8 L10,42 M18,32 L88,32 M50,6 L50,90 M20,60 L82,60 M6,90 L94,90" fill="none" stroke="#E3E3E3" stroke-opacity="0.7" stroke-width="3.6"/><path transform="translate(277.5,-36) scale(0.42)" d="M22,10 L10,36 M8,36 L38,34 M24,6 L24,96 M4,66 L40,54 M60,6 L48,30 M54,24 L94,24 L90,80 L80,92 M70,30 L54,70 M82,30 L62,86" fill="none" stroke="#E3E3E3" stroke-opacity="0.7" stroke-width="3.6"/></g><g transform="translate(710,549) rotate(-44.8)"><text x="-0.8 24.4 46.7 73 91.3 114.6 138.9" y="0" font-family="Liberation Serif" font-size="36" fill="#E4E4E4" fill-opacity="0.68" stroke="none">Cobioer</text><path transform="translate(156,-36) scale(0.42)" d="M40,8 L12,18 M6,38 L44,38 M26,14 L26,96 M26,42 L6,72 M28,48 L42,60 M56,22 L64,30 M54,42 L62,50 M50,64 L96,60 M78,6 L78,96" fill="none" stroke="#E3E3E3" stroke-opacity="0.7" stroke-width="3.6"/><path transform="translate(196.5,-36) scale(0.42)" d="M22,6 L4,46 M15,30 L15,96 M34,12 L94,12 M62,12 L52,30 M40,30 L88,30 L88,94 L40,94 Z M40,62 L88,62" fill="none" stroke="#E3E3E3" stroke-opacity="0.7" stroke-width="3.6"/><path transform="translate(237.0,-36) scale(0.42)" d="M28,8 L10,42 M18,32 L88,32 M50,6 L50,90 M20,60 L82,60 M6,90 L94,90" fill="none" stroke="#E3E3E3" stroke-opacity="0.7" stroke-width="3.6"/><path transform="translate(277.5,-36) scale(0.42)" d="M22,10 L10,36 M8,36 L38,34 M24,6 L24,96 M4,66 L40,54 M60,6 L48,30 M54,24 L94,24 L90,80 L80,92 M70,30 L54,70 M82,30 L62,86" fill="none" stroke="#E3E3E3" stroke-opacity="0.7" stroke-width="3.6"/></g><g transform="translate(35,834) rotate(-44.8)"><text x="-0.8 24.4 46.7 73 91.3 114.6 138.9" y="0" font-family="Liberation Serif" font-size="36" fill="#E4E4E4" fill-opacity="0.68" stroke="none">Cobioer</text><path transform="translate(156,-36) scale(0.42)" d="M40,8 L12,18 M6,38 L44,38 M26,14 L26,96 M26,42 L6,72 M28,48 L42,60 M56,22 L64,30 M54,42 L62,50 M50,64 L96,60 M78,6 L78,96" fill="none" stroke="#E3E3E3" stroke-opacity="0.7" stroke-width="3.6"/><path transform="translate(196.5,-36) scale(0.42)" d="M22,6 L4,46 M15,30 L15,96 M34,12 L94,12 M62,12 L52,30 M40,30 L88,30 L88,94 L40,94 Z M40,62 L88,62" fill="none" stroke="#E3E3E3" stroke-opacity="0.7" stroke-width="3.6"/><path transform="translate(237.0,-36) scale(0.42)" d="M28,8 L10,42 M18,32 L88,32 M50,6 L50,90 M20,60 L82,60 M6,90 L94,90" fill="none" stroke="#E3E3E3" stroke-opacity="0.7" stroke-width="3.6"/><path transform="translate(277.5,-36) scale(0.42)" d="M22,10 L10,36 M8,36 L38,34 M24,6 L24,96 M4,66 L40,54 M60,6 L48,30 M54,24 L94,24 L90,80 L80,92 M70,30 L54,70 M82,30 L62,86" fill="none" stroke="#E3E3E3" stroke-opacity="0.7" stroke-width="3.6"/></g><g transform="translate(372,834) rotate(-44.8)"><text x="-0.8 24.4 46.7 73 91.3 114.6 138.9" y="0" font-family="Liberation Serif" font-size="36" fill="#E4E4E4" fill-opacity="0.68" stroke="none">Cobioer</text><path transform="translate(156,-36) scale(0.42)" d="M40,8 L12,18 M6,38 L44,38 M26,14 L26,96 M26,42 L6,72 M28,48 L42,60 M56,22 L64,30 M54,42 L62,50 M50,64 L96,60 M78,6 L78,96" fill="none" stroke="#E3E3E3" stroke-opacity="0.7" stroke-width="3.6"/><path transform="translate(196.5,-36) scale(0.42)" d="M22,6 L4,46 M15,30 L15,96 M34,12 L94,12 M62,12 L52,30 M40,30 L88,30 L88,94 L40,94 Z M40,62 L88,62" fill="none" stroke="#E3E3E3" stroke-opacity="0.7" stroke-width="3.6"/><path transform="translate(237.0,-36) scale(0.42)" d="M28,8 L10,42 M18,32 L88,32 M50,6 L50,90 M20,60 L82,60 M6,90 L94,90" fill="none" stroke="#E3E3E3" stroke-opacity="0.7" stroke-width="3.6"/><path transform="translate(277.5,-36) scale(0.42)" d="M22,10 L10,36 M8,36 L38,34 M24,6 L24,96 M4,66 L40,54 M60,6 L48,30 M54,24 L94,24 L90,80 L80,92 M70,30 L54,70 M82,30 L62,86" fill="none" stroke="#E3E3E3" stroke-opacity="0.7" stroke-width="3.6"/></g><g transform="translate(710,834) rotate(-44.8)"><text x="-0.8 24.4 46.7 73 91.3 114.6 138.9" y="0" font-family="Liberation Serif" font-size="36" fill="#E4E4E4" fill-opacity="0.68" stroke="none">Cobioer</text><path transform="translate(156,-36) scale(0.42)" d="M40,8 L12,18 M6,38 L44,38 M26,14 L26,96 M26,42 L6,72 M28,48 L42,60 M56,22 L64,30 M54,42 L62,50 M50,64 L96,60 M78,6 L78,96" fill="none" stroke="#E3E3E3" stroke-opacity="0.7" stroke-width="3.6"/><path transform="translate(196.5,-36) scale(0.42)" d="M22,6 L4,46 M15,30 L15,96 M34,12 L94,12 M62,12 L52,30 M40,30 L88,30 L88,94 L40,94 Z M40,62 L88,62" fill="none" stroke="#E3E3E3" stroke-opacity="0.7" stroke-width="3.6"/><path transform="translate(237.0,-36) scale(0.42)" d="M28,8 L10,42 M18,32 L88,32 M50,6 L50,90 M20,60 L82,60 M6,90 L94,90" fill="none" stroke="#E3E3E3" stroke-opacity="0.7" stroke-width="3.6"/><path transform="translate(277.5,-36) scale(0.42)" d="M22,10 L10,36 M8,36 L38,34 M24,6 L24,96 M4,66 L40,54 M60,6 L48,30 M54,24 L94,24 L90,80 L80,92 M70,30 L54,70 M82,30 L62,86" fill="none" stroke="#E3E3E3" stroke-opacity="0.7" stroke-width="3.6"/></g></g><text transform="translate(163.4,259) rotate(90)" font-family="Liberation Serif" font-size="29.1" fill="#000">Adenylate</text>
<text transform="translate(128,259.8) rotate(90)" font-family="Liberation Serif" font-size="29" fill="#000">Cyclase</text>
<text x="558" y="329" text-anchor="middle" font-family="Liberation Serif" font-weight="bold" font-size="33" fill="#363636">CTR</text>
<text font-family="Liberation Serif" font-weight="bold" font-size="28.8" fill="#000"><tspan x="521.5" y="35.4">Amylin/</tspan><tspan x="521.5" y="69.7">Calcitonin/</tspan><tspan x="521.5" y="104">Cagrilintide</tspan></text>
<text x="651.6" y="448.6" text-anchor="middle" font-family="Liberation Serif" font-size="30" fill="#000">G&#945;</text>
<text x="601.7" y="490.8" text-anchor="middle" font-family="Liberation Serif" font-size="28.4" fill="#000">GTP</text>
<g fill="#000"><path d="M801.3,379 C800.6,375.5 802.2,373 804.6,373.2 C806.8,373.5 807.8,377.5 808.9,382.5 L807.6,383 C806.6,379 805.6,376 803.8,375.8 C802.6,375.8 802,377.2 801.9,379 Z"/><path d="M810.2,373.2 L814.4,373.2 L809.2,383.2 L807.4,382.6 Z"/><path d="M807.4,382 C806.6,385 805.4,388 806.1,390 C806.8,391.4 808.9,391.3 809.2,389.4 C809.4,387.4 808.9,384.6 809.2,382 Z"/></g>
<text x="788" y="448" text-anchor="middle" font-family="Liberation Serif" font-size="27" fill="#000">&#946;</text>
<text x="378.8" y="496.5" text-anchor="middle" font-family="Liberation Serif" font-size="29.5" fill="#000">G&#945;s</text>
<text x="132" y="610.3" text-anchor="middle" font-family="Liberation Serif" font-size="28.6" fill="#000">cAMP</text>
<text x="75" y="474.6" text-anchor="middle" font-family="Liberation Serif" font-weight="bold" font-size="28" fill="#1E9A2C">ATP</text>
<g fill="none" stroke="#000" stroke-width="4.5"><path d="M141,402 C119,450 133,505 145.4,544"/><path d="M316,463 Q249,447 214,401.5"/><path d="M562.8,487.4 Q508,514.3 462,499.3"/><path d="M170.7,637.6 Q180,675.3 244.5,712.5"/><path d="M561,726 Q595,727 625.5,739.3"/></g>
<g fill="#000"><polygon points="145.6,555.4 139.4,543.2 151.9,543.4"/><polygon points="202.8,394.4 216.2,395.6 210.1,405.8"/><polygon points="449.2,500.3 460.8,493.1 461.6,505.1"/><polygon points="254,721.7 249.6,708.5 241,717.5"/><polygon points="637.6,742.4 627.1,733.5 624.1,745.1"/></g>
<g font-family="Liberation Serif" font-size="25" fill="#000" text-anchor="middle"><text x="76.4" y="752.9">R</text><text x="23.5" y="772.7">C</text><text x="130.6" y="749.3">R</text><text x="172.4" y="726.6">C</text></g>
<text x="28.6" y="826.2" font-family="Liberation Serif" font-size="29" fill="#000">Inactive PKA</text>
<g font-family="Liberation Serif" font-size="24.5" fill="#000" text-anchor="middle"><text x="308" y="707.4">R</text><text x="306.7" y="789.6">R</text><text x="360" y="684" font-size="25.2">cAMP</text><text x="359.5" y="766.4" font-size="25.2">cAMP</text></g>
<text x="329.5" y="841.6" font-family="Liberation Serif" font-size="29.2" fill="#000">Active PKA</text>
<g font-family="Liberation Serif" font-size="24.5" fill="#000" text-anchor="middle"><text x="470.7" y="735.1">C</text><text x="526.3" y="735.1">C</text></g>
<text x="712.5" y="709.5" font-family="Liberation Serif" font-size="33.3" fill="#000">Nuclear</text>
<text x="690.4" y="767.9" text-anchor="middle" font-family="Liberation Serif" font-size="23" fill="#000">P</text>
<text x="653.6" y="792.6" text-anchor="middle" font-family="Liberation Serif" font-size="25.6" fill="#000">CREB</text>
<text x="646.1" y="833.7" text-anchor="middle" font-family="Liberation Serif" font-size="24.5" fill="#000">CRE</text>
<text x="720.3" y="833.7" text-anchor="middle" font-family="Liberation Serif" font-size="25" fill="#C833AC">LUC</text>
<text x="934.8" y="844.5" text-anchor="middle" font-family="Liberation Serif" font-weight="bold" font-size="28" fill="#149A22">Light</text></svg>
</body></html>
